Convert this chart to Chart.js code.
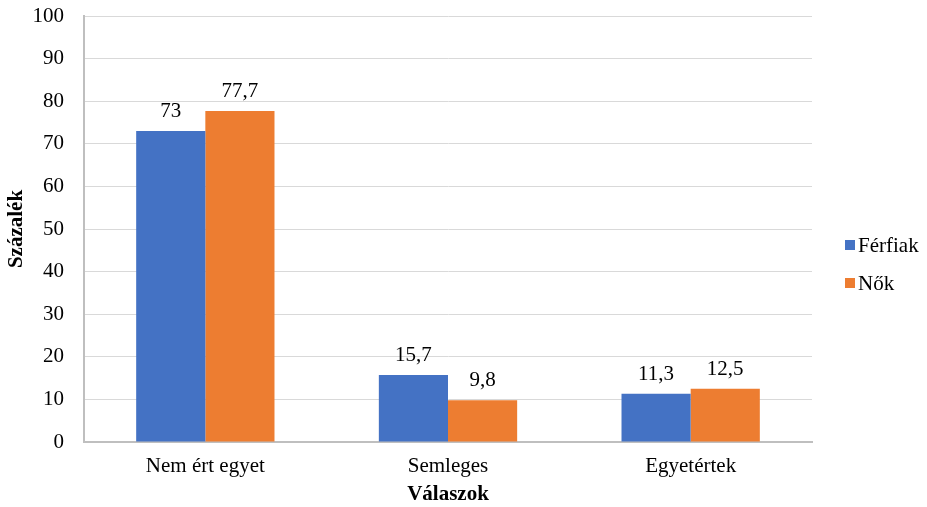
<!DOCTYPE html>
<html>
<head>
<meta charset="utf-8">
<script src="https://cdn.jsdelivr.net/npm/chart.js@4/dist/chart.umd.min.js"></script>
<style>
html,body{margin:0;padding:0;background:#fff;}
#wrap{width:927px;height:507px;}
</style>
</head>
<body>
<div id="wrap"><canvas id="c" width="927" height="507"></canvas></div>
<script>
const categories = ["Nem ért egyet", "Semleges", "Egyetértek"];
const ferfiak = [73, 15.7, 11.3];
const nok = [77.7, 9.8, 12.5];
const seriesNames = ["Férfiak", "Nők"];
const yTicks = [0, 10, 20, 30, 40, 50, 60, 70, 80, 90, 100];

const FONT = "'Liberation Serif', 'Times New Roman', serif";
const FS = 21;

const labelsPlugin = {
  id: 'valueLabels',
  afterDatasetsDraw(chart) {
    const ctx = chart.ctx;
    ctx.save();
    ctx.font = FS + "px " + FONT;
    ctx.fillStyle = "#000";
    ctx.textAlign = "center";
    ctx.textBaseline = "bottom";
    chart.data.datasets.forEach((ds, i) => {
      const meta = chart.getDatasetMeta(i);
      meta.data.forEach((bar, j) => {
        const txt = String(ds.data[j]).replace('.', ',');
        ctx.fillText(txt, bar.x, bar.y - 9);
      });
    });
    ctx.restore();
  }
};

const legendPlugin = {
  id: 'customLegend',
  afterDraw(chart) {
    const ctx = chart.ctx;
    ctx.save();
    ctx.font = FS + "px " + FONT;
    ctx.textBaseline = "middle";
    ctx.textAlign = "left";
    const x0 = 845, ys = [245, 283];
    chart.data.datasets.forEach((ds, i) => {
      ctx.fillStyle = ds.backgroundColor;
      ctx.fillRect(x0, ys[i] - 5, 10, 10);
      ctx.fillStyle = "#000";
      ctx.fillText(ds.label, x0 + 13, ys[i] + 1);
    });
    ctx.restore();
  }
};

new Chart(document.getElementById('c'), {
  type: 'bar',
  data: {
    labels: categories,
    datasets: [
      { label: seriesNames[0], data: ferfiak, backgroundColor: '#4472C4', categoryPercentage: 0.57, barPercentage: 1.0 },
      { label: seriesNames[1], data: nok, backgroundColor: '#ED7D31', categoryPercentage: 0.57, barPercentage: 1.0 }
    ]
  },
  options: {
    responsive: false,
    animation: false,
    devicePixelRatio: 1,
    layout: { padding: { top: 0, right: 115, left: 0, bottom: 0 } },
    plugins: {
      legend: { display: false },
      tooltip: { enabled: false }
    },
    scales: {
      x: {
        afterFit(axis) { axis.height = 65; axis.paddingLeft = 0; axis.paddingRight = 0; },
        grid: { display: false, drawTicks: false },
        border: { color: '#bfbfbf', width: 2 },
        ticks: { font: { family: FONT, size: FS }, color: '#000', padding: 12 },
        title: { display: true, text: 'Válaszok', font: { family: FONT, size: FS, weight: 'bold' }, color: '#000', padding: { top: 4, bottom: 0 } }
      },
      y: {
        min: 0, max: 100,
        afterBuildTicks(axis) { axis.ticks = yTicks.map(v => ({ value: v })); },
        afterFit(axis) { axis.width = 84; axis.paddingTop = 16; axis.paddingBottom = 0; },
        grid: { color: '#d9d9d9', lineWidth: 1, drawTicks: false },
        border: { color: '#bfbfbf', width: 2 },
        ticks: { font: { family: FONT, size: FS }, color: '#000', padding: 20 },
        title: { display: true, text: 'Százalék', font: { family: FONT, size: FS, weight: 'bold' }, color: '#000', padding: { top: 4, bottom: 4 } }
      }
    }
  },
  plugins: [labelsPlugin, legendPlugin]
});
</script>
</body>
</html>
